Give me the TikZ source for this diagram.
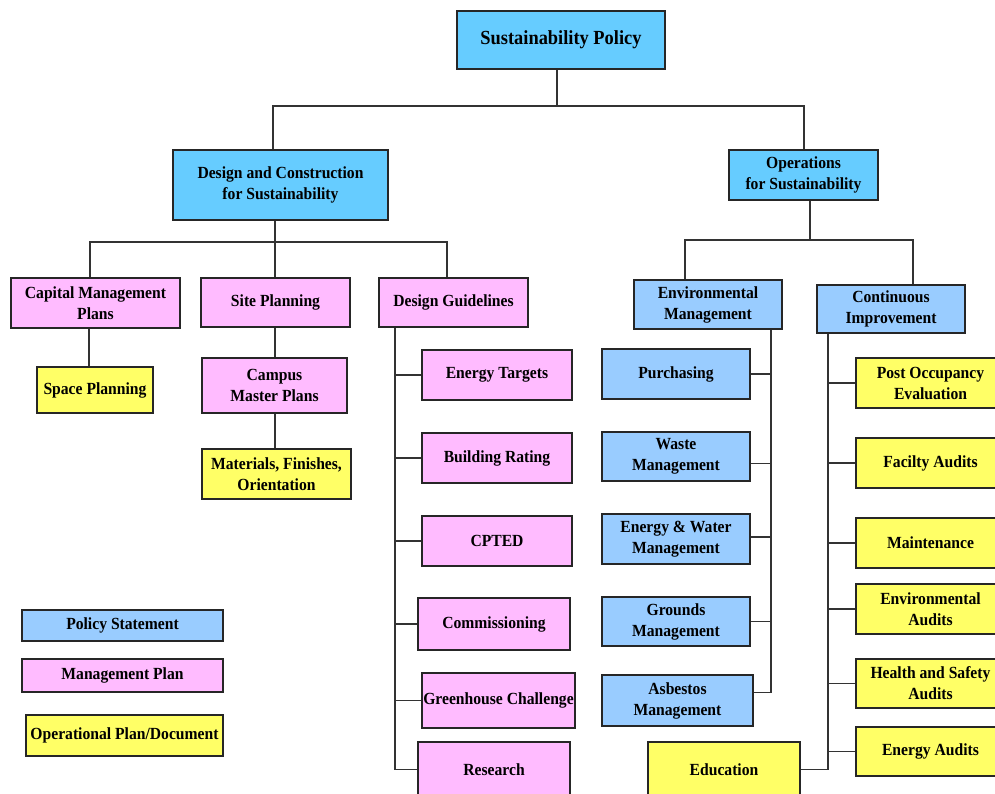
\documentclass[tikz,border=0pt]{standalone}
\usepackage{fontspec}
\setmainfont{Liberation Serif}[FakeStretch=0.92]
\definecolor{topc}{HTML}{66CCFF}
\definecolor{polc}{HTML}{99CCFF}
\definecolor{manc}{HTML}{FFBBFF}
\definecolor{opc}{HTML}{FFFF66}
\newcommand\mybox[7]{\node[#1,minimum width={(#5-#3)*1pt},minimum height={(#6-#4)*1pt}] (#2) at ({(#3+#5)/2},{(#4+#6)/2}) {#7};}
\begin{document}
\begin{tikzpicture}[x=1pt,y=-1pt,
  box/.style={draw=black!85, line width=1.1pt, inner sep=0pt, align=center, font=\bfseries\fontsize{17}{21}\selectfont},
  topbox/.style={box, fill=topc},
  polbox/.style={box, fill=polc},
  manbox/.style={box, fill=manc},
  opbox/.style={box, fill=opc},
  conn/.style={draw=black!80, line width=1.1pt}]
\useasboundingbox[fill=white] (0,0) rectangle (995,794);
% top levels
\mybox{topbox,font=\bfseries\fontsize{20}{24}\selectfont}{sp}{457}{11}{665}{69}{Sustainability Policy}
\mybox{topbox}{dc}{173}{150}{388}{220}{Design and Construction\\for Sustainability}
\mybox{topbox}{ops}{729}{150}{878}{200}{Operations\\for Sustainability}
% design side
\mybox{manbox}{cmp}{11}{278}{180}{328}{Capital Management\\Plans}
\mybox{manbox}{site}{201}{278}{350}{327}{Site Planning}
\mybox{manbox}{dg}{379}{278}{528}{327}{Design Guidelines}
\mybox{opbox}{spc}{37}{367}{153}{413}{Space Planning}
\mybox{manbox}{campus}{202}{358}{347}{413}{Campus\\Master Plans}
\mybox{opbox}{mat}{202}{449}{351}{499}{Materials, Finishes,\\Orientation}
\mybox{manbox}{et}{422}{350}{572}{400}{Energy Targets}
\mybox{manbox}{br}{422}{433}{572}{483}{Building Rating}
\mybox{manbox}{cpted}{422}{516}{572}{566}{CPTED}
\mybox{manbox}{com}{418}{598}{570}{650}{Commissioning}
\mybox{manbox}{gh}{422}{673}{575}{728}{Greenhouse Challenge}
\mybox{manbox}{res}{418}{742}{570}{797}{Research}
% legend
\mybox{polbox}{lg1}{22}{610}{223}{641}{Policy Statement}
\mybox{manbox}{lg2}{22}{659}{223}{692}{Management Plan}
\mybox{opbox}{lg3}{26}{715}{223}{756}{Operational Plan/Document}
% operations side
\mybox{polbox}{em}{634}{280}{782}{329}{Environmental\\Management}
\mybox{polbox}{ci}{817}{285}{965}{333}{Continuous\\Improvement}
\mybox{polbox}{pur}{602}{349}{750}{399}{Purchasing}
\mybox{polbox}{waste}{602}{432}{750}{481}{Waste\\Management}
\mybox{polbox}{ew}{602}{514}{750}{564}{Energy \& Water\\Management}
\mybox{polbox}{gr}{602}{597}{750}{646}{Grounds\\Management}
\mybox{polbox}{asb}{602}{675}{753}{726}{Asbestos\\Management}
\mybox{opbox}{poe}{856}{358}{1005}{408}{Post Occupancy\\Evaluation}
\mybox{opbox}{fac}{856}{438}{1005}{488}{Facilty Audits}
\mybox{opbox}{mnt}{856}{518}{1005}{568}{Maintenance}
\mybox{opbox}{ea}{856}{584}{1005}{634}{Environmental\\Audits}
\mybox{opbox}{hs}{856}{659}{1005}{708}{Health and Safety\\Audits}
\mybox{opbox}{eau}{856}{727}{1005}{776}{Energy Audits}
\mybox{opbox}{edu}{648}{742}{800}{797}{Education}
% junction coordinates
\coordinate (j0) at (557,106);
\coordinate (jL) at (273,106);
\coordinate (jR) at (804,106);
\coordinate (k0) at (275,242);
\coordinate (k1) at (90,242);
\coordinate (k2) at (447,242);
\coordinate (c1) at (89,0);
\coordinate (s1) at (395,0);
\coordinate (m0) at (810,240);
\coordinate (m1) at (685,240);
\coordinate (m2) at (913,240);
\coordinate (s2) at (771,0);
\coordinate (s3) at (828,0);
% connectors
\draw[conn] (sp.south -| j0) -- (j0);
\draw[conn] (dc.north -| jL) |- (jR) -- (ops.north -| jR);
\draw[conn] (dc.south -| k0) -- (k0) -- (site.north -| k0);
\draw[conn] (cmp.north -| k1) |- (k2) -- (dg.north -| k2);
\draw[conn] (cmp.south -| c1) -- (spc.north -| c1);
\draw[conn] (site.south -| k0) -- (campus.north -| k0);
\draw[conn] (campus.south -| k0) -- (mat.north -| k0);
\draw[conn] (dg.south -| s1) |- (res.west);
\foreach \n in {et,br,cpted,com,gh} \draw[conn] (s1 |- \n.west) -- (\n.west);
\draw[conn] (ops.south -| m0) -- (m0);
\draw[conn] (em.north -| m1) |- (m2) -- (ci.north -| m2);
\draw[conn] (em.south -| s2) |- ([yshift=8pt]asb.east);
\draw[conn] (s2 |- pur.east) -- (pur.east);
\draw[conn] ([yshift=-7pt]s2 |- waste.east) -- ([yshift=-7pt]waste.east);
\draw[conn] ([yshift=2pt]s2 |- ew.east) -- ([yshift=2pt]ew.east);
\draw[conn] (s2 |- gr.east) -- (gr.east);
\draw[conn] (ci.south -| s3) -- (s3 |- edu.east) -- (edu.east);
\foreach \n in {poe,fac,mnt,ea,hs,eau} \draw[conn] (s3 |- \n.west) -- (\n.west);
\end{tikzpicture}
\end{document}
